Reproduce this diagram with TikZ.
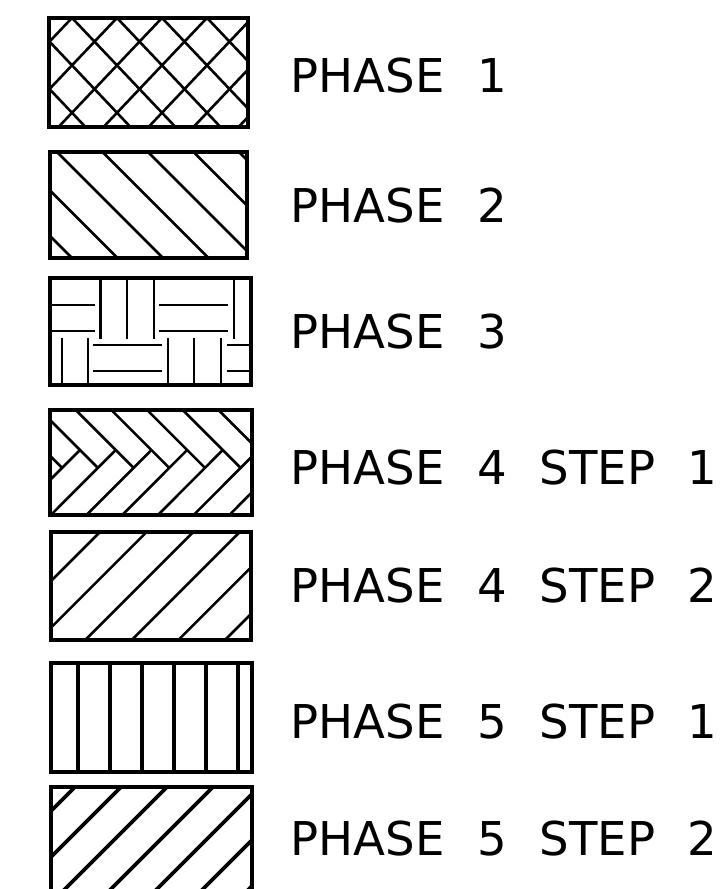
\documentclass[tikz,border=0pt]{standalone}
\usepackage{fontspec}
\setmainfont[WordSpace=2.2]{DejaVu Sans}

\begin{document}
\begin{tikzpicture}[x=1pt, y=-1pt,
  boxline/.style={line width=4pt},
  hatchline/.style={line width=2.6pt},
  heavyhatch/.style={line width=3.8pt},
  phasetext/.style={anchor=base west, inner sep=0pt, font=\fontsize{46.6}{50}\selectfont}]

  \useasboundingbox (0,0) rectangle (720,889);

  % --- 0. 凡例の枠の位置 ---
  \def\boxL{50}   % left edge
  \def\boxR{251}  % right edge
  \def\txtX{290.5}

  % --- 1. PHASE 1 : cross hatch ---
  \begin{scope}
    \clip (49,18) rectangle (248,127);
    \foreach \k in {-3,...,7} {
      \draw[hatchline] ({72+45*\k-100},{18-105.5}) -- ({72+45*\k+150},{18+158});
      \draw[hatchline] ({72+45*\k+100},{18-105.5}) -- ({72+45*\k-150},{18+158});
    }
  \end{scope}
  \draw[boxline] (49,18) rectangle (248,127);
  \node[phasetext] (ph1) at (\txtX,92) {PHASE 1};

  % --- 2. PHASE 2 : x - y = const ---
  \begin{scope}
    \clip (\boxL,152) rectangle (247,258);
    \foreach \k in {-3,...,5}
      \draw[hatchline] ({-95+45.5*\k+100},100) -- ({-95+45.5*\k+320},320);
  \end{scope}
  \draw[boxline] (\boxL,152) rectangle (247,258);
  \node[phasetext] (ph2) at (\txtX,222) {PHASE 2};

  % --- 3. PHASE 3 : basket weave ---
  \begin{scope}
    \clip (\boxL,278) rectangle (\boxR,385);
    % upper row
    \foreach \x in {100.7,127,154,234}
      \draw[hatchline] (\x,270) -- (\x,339);
    \foreach \y in {305,331} {
      \draw[hatchline] (40,\y) -- (95,\y);
      \draw[hatchline] (159,\y) -- (228,\y);
    }
    % lower row
    \foreach \x in {62,88,168,194,221}
      \draw[hatchline] (\x,338) -- (\x,395);
    \foreach \y in {345,371} {
      \draw[hatchline] (93,\y) -- (162,\y);
      \draw[hatchline] (227,\y) -- (260,\y);
    }
  \end{scope}
  \draw[boxline] (\boxL,278) rectangle (\boxR,385);
  \node[phasetext] (ph3) at (\txtX,348) {PHASE 3};

  % --- 4. PHASE 4 STEP 1 : herringbone ---
  \begin{scope}
    \clip (\boxL,410) rectangle (252,515);
    \foreach \k in {-2,...,6} {
      \pgfmathsetmacro{\ux}{80+35.7*\k}  % upper vertex
      \pgfmathsetmacro{\lx}{62.2+35.7*\k} % lower vertex
      \draw[hatchline] ({\ux-60},390) -- ({\ux+18},468);
      \draw[hatchline] ({\lx-70},538) -- (\ux,450);
    }
  \end{scope}
  \draw[boxline] (\boxL,410) rectangle (252,515);
  \node[phasetext] (ph4a) at (\txtX,484) {PHASE 4 STEP 1};

  % --- 5. PHASE 4 STEP 2 : x + y = const ---
  \begin{scope}
    \clip (51,532) rectangle (\boxR,640);
    \foreach \k in {-1,...,6}
      \draw[hatchline] ({632+46.6*\k-500},500) -- ({632+46.6*\k-680},680);
  \end{scope}
  \draw[boxline] (51,532) rectangle (\boxR,640);
  \node[phasetext] (ph4b) at (\txtX,602) {PHASE 4 STEP 2};

  % --- 6. PHASE 5 STEP 1 : verticals ---
  \foreach \x in {78.3,110,142.3,174,206,238.3}
    \draw[heavyhatch] (\x,663) -- (\x,772);
  \draw[boxline] (51,663) rectangle (252,772);
  \node[phasetext] (ph5a) at (\txtX,738) {PHASE 5 STEP 1};

  % --- 7. PHASE 5 STEP 2 : x + y = const (heavy) ---
  \begin{scope}
    \clip (51,787) rectangle (252,896);
    \foreach \k in {-1,...,7}
      \draw[heavyhatch] ({862+46*\k-770},770) -- ({862+46*\k-910},910);
  \end{scope}
  \draw[boxline] (51,787) rectangle (252,896);
  \node[phasetext] (ph5b) at (\txtX,855) {PHASE 5 STEP 2};

\end{tikzpicture}
\end{document}
